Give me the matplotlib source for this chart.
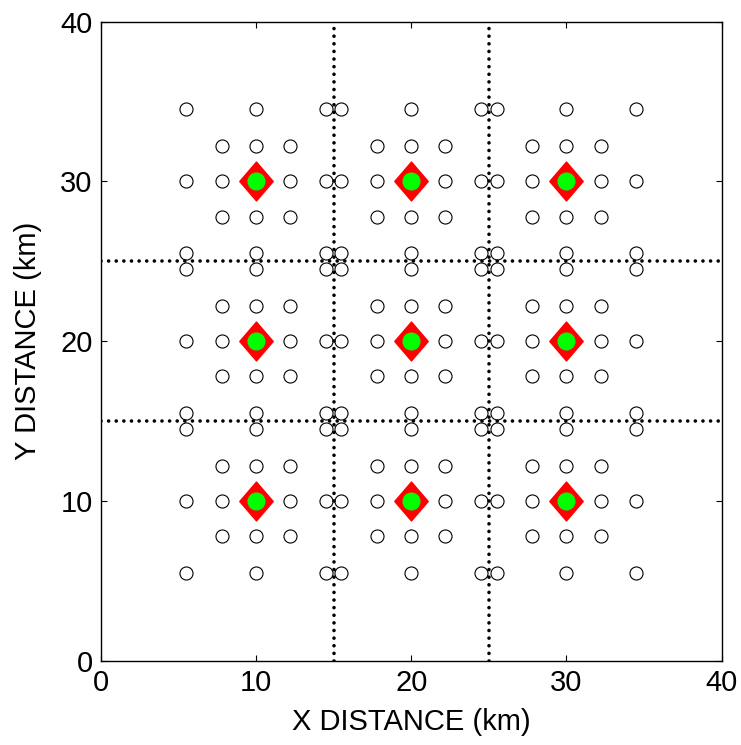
import numpy as np
import matplotlib
matplotlib.use('Agg')
import matplotlib.pyplot as plt
from matplotlib.path import Path

plt.rcParams['font.family'] = ['Liberation Sans', 'DejaVu Sans']

# centros de las celdas (km)
centro_x = [10, 20, 30, 10, 20, 30, 10, 20, 30]
centro_y = [10, 10, 10, 20, 20, 20, 30, 30, 30]

# desplazamientos de los puntos de medicion alrededor de cada centro (km)
desp_x = [-4.5, 0, 4.5, -2.2, 0, 2.2, -4.5, -2.2, 2.2, 4.5, -2.2, 0, 2.2, -4.5, 0, 4.5]
desp_y = [4.5, 4.5, 4.5, 2.2, 2.2, 2.2, 0, 0, 0, 0, -2.2, -2.2, -2.2, -4.5, -4.5, -4.5]

# limites de las celdas
lineas_x = [15, 25]
lineas_y = [15, 25]

X = []
Y = []
for i in range(0, len(centro_x)):
    for j in range(0, len(desp_x)):
        X.append(centro_x[i] + desp_x[j])
        Y.append(centro_y[i] + desp_y[j])

rombo = Path([(-0.43, 0), (0, 0.5), (0.43, 0), (0, -0.5), (-0.43, 0)],
             [Path.MOVETO, Path.LINETO, Path.LINETO, Path.LINETO, Path.CLOSEPOLY])

fig = plt.figure(figsize=(7.41, 7.45), dpi=100)
ax = fig.add_axes([0.1363, 0.1128, 0.8374, 0.8583])

for xv in lineas_x:
    ax.plot([xv, xv], [0, 40], color='k', linewidth=2.6,
            linestyle=(0, (0.01, 2.1)), dash_capstyle='round', zorder=1)
for yv in lineas_y:
    ax.plot([0, 40], [yv, yv], color='k', linewidth=2.6,
            linestyle=(0, (0.01, 2.1)), dash_capstyle='round', zorder=1)

ax.plot(X, Y, 'o', markerfacecolor='none', markeredgecolor='k',
        markersize=9.4, markeredgewidth=0.8, zorder=2)
ax.plot(centro_x, centro_y, marker=rombo, linestyle='none', color='red',
        markersize=28, zorder=3)
ax.plot(centro_x, centro_y, 'o', color=(0, 1, 0), markersize=13,
        markeredgewidth=0, zorder=4)

ax.set_xlim(0, 40)
ax.set_ylim(0, 40)
ax.set_xticks([0, 10, 20, 30, 40])
ax.set_yticks([0, 10, 20, 30, 40])
ax.tick_params(direction='in', top=True, right=True, length=4, labelsize=21, pad=6)
for s in ax.spines.values():
    s.set_linewidth(1.0)
ax.set_xlabel('X DISTANCE (km)', fontsize=21, labelpad=8)
ax.set_ylabel('Y DISTANCE (km)', fontsize=21, labelpad=13)

plt.savefig('out.png', dpi=100)
